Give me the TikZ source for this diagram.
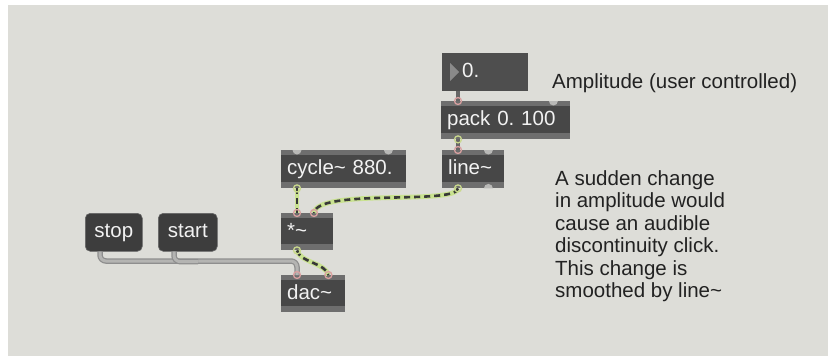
\documentclass[tikz,border=0pt]{standalone}
\usepackage{fontspec}
\setmainfont{Liberation Sans}
\usetikzlibrary{calc}
\frenchspacing
\definecolor{bg}{HTML}{DDDDD8}
\definecolor{boxbody}{HTML}{474747}
\definecolor{strip}{HTML}{6E6E6E}
\definecolor{numbg}{HTML}{4E4E4E}
\definecolor{tri}{HTML}{8A8A8A}
\definecolor{bump}{HTML}{B9B9B7}
\definecolor{pinkring}{HTML}{D9A0A0}
\definecolor{yelring}{HTML}{C9D98C}
\definecolor{sigyel}{HTML}{C9E290}
\definecolor{sigdark}{HTML}{383838}
\definecolor{ctl}{HTML}{666666}
\definecolor{msgout}{HTML}{8E8E8E}
\definecolor{msgin}{HTML}{B4B4B2}
\definecolor{msgbg}{HTML}{3D3D3D}
\definecolor{txt}{HTML}{222222}
\newcommand\boxfont{\fontsize{20.5pt}{22.5pt}\selectfont}
\newcommand\maxstrips[1]{%
  \fill[strip] (#1.north west) rectangle ($(#1.north east)+(0,5)$);
  \fill[strip] ($(#1.south west)+(0,-6)$) rectangle (#1.south east);}
\tikzset{
  maxbox/.style={fill=boxbody, anchor=north west, inner ysep=0pt, inner xsep=6pt,
    minimum height=38pt, text height=15pt, text depth=4pt, text=white!95!black,
    font=\boxfont, align=left, text width=#1},
  msgbox/.style={fill=msgbg, draw=black!60, line width=0.6pt, rounded corners=5pt,
    anchor=north west, inner sep=0pt, minimum height=38pt, minimum width=#1,
    text height=15pt, text depth=4pt, text=white!95!black, font=\boxfont},
  lbl/.style={text=txt, font=\boxfont, inner sep=0pt},
  sigcord/.style={draw=sigdark, line width=2.6pt, dash pattern=on 6pt off 4pt,
    preaction={draw=sigyel, line width=4.8pt, solid}},
  ctlcord/.style={draw=ctl, line width=4.5pt},
  msgcord/.style={draw=msgin, line width=3pt, rounded corners=6pt,
    preaction={draw=msgout, line width=5.5pt}},
  pring/.style={draw=pinkring, line width=1.3pt},
  yring/.style={draw=yelring, line width=1.3pt},
}
\begin{document}
\begin{tikzpicture}[x=1pt,y=-1pt]
\useasboundingbox (0,0) rectangle (828,356);
\fill[white] (0,0) rectangle (828,356);
\fill[bg] (8,5) rectangle (828,356);

% boxes
\node[maxbox=74pt, fill=numbg] (num) at (442,53) {\hspace*{14pt}0.};
\node[maxbox=117pt] (pack) at (441,101) {pack 0. 100};
\node[maxbox=50pt] (line) at (442,150) {line\textasciitilde};
\node[maxbox=113pt] (cycle) at (281,150) {cycle\textasciitilde\ 880.};
\node[maxbox=40pt, minimum height=37pt] (mul) at (281,213) {*\textasciitilde};
\node[maxbox=52pt, minimum height=37pt] (dac) at (281,275) {dac\textasciitilde};
\node[msgbox=57pt] (stop) at (85,213) {stop};
\node[msgbox=59pt] (start) at (158,213) {start};

\maxstrips{pack}
\maxstrips{line}
\maxstrips{cycle}
\maxstrips{mul}
\maxstrips{dac}
\fill[tri] ($(num.north west)+(8,10)$) -- ++(0,18) -- ++(9,-9) -- cycle;

% inlet / outlet points
\coordinate (numOut) at ($(num.south west)+(16,0)$);
\coordinate (packIn) at ($(pack.north west)+(17,0)$);
\coordinate (packIn2) at ($(pack.north east)+(-17,0)$);
\coordinate (packOut) at ($(pack.south west)+(17,0)$);
\coordinate (lineIn) at ($(line.north west)+(16,0)$);
\coordinate (lineIn2) at ($(line.north east)+(-16,0)$);
\coordinate (lineOut) at ($(line.south west)+(16,0)$);
\coordinate (lineOut2) at ($(line.south east)+(-16,0)$);
\coordinate (cycIn) at ($(cycle.north west)+(16,0)$);
\coordinate (cycIn2) at ($(cycle.north east)+(-18,0)$);
\coordinate (cycOut) at ($(cycle.south west)+(16,0)$);
\coordinate (mulIn) at ($(mul.north west)+(16,0)$);
\coordinate (mulIn2) at ($(mul.north west)+(33,0)$);
\coordinate (mulOut) at ($(mul.south west)+(16,0)$);
\coordinate (dacIn) at ($(dac.north west)+(16,0)$);
\coordinate (dacIn2) at ($(dac.north east)+(-17,0)$);
\coordinate (stopOut) at ($(stop.south west)+(15,0)$);
\coordinate (startOut) at ($(start.south west)+(16,0)$);

% unconnected inlet/outlet bumps
\foreach \p in {packIn2,lineIn2,cycIn,cycIn2}{
  \fill[bump] ($(\p)+(-4.5,0)$) arc (180:0:4.5) -- cycle;}
\foreach \p in {lineOut2}{
  \fill[bump] ($(\p)+(-4.5,0)$) arc (180:360:4.5) -- cycle;}

% cords
\draw[ctlcord] (numOut) -- (packIn);
\draw[ctlcord] (packOut) -- (lineIn);
\draw[msgcord] (stopOut) |- ($(dacIn)+(0,-14)$) -- (dacIn);
\draw[msgcord] (startOut) |- ($(startOut)+(24,10)$);
\draw[sigcord] (cycOut) -- (mulIn);
\draw[sigcord] (lineOut) .. controls ($(lineOut)+(-2,17)$) and ($(mulIn2)+(3,-25)$) .. (mulIn2);
\draw[sigcord] (mulOut) .. controls ($(mulOut)+(3,12)$) and ($(dacIn2)+(-3,-12)$) .. (dacIn2);

% rings
\foreach \p in {packIn,lineIn,mulIn,mulIn2,dacIn,dacIn2}{
  \draw[pring] (\p) circle (3.5);}
\foreach \p in {packOut,lineOut,cycOut,mulOut}{
  \draw[yring] (\p) circle (3.5);}

% comments
\node[lbl, anchor=base west] (amp) at (552,88) {Amplitude (user controlled)};
\node[lbl, anchor=north west, align=left] (note) at (555,170)
  {A sudden change\\in amplitude would\\cause an audible\\discontinuity click.\\This change is\\smoothed by line\textasciitilde};
\end{tikzpicture}
\end{document}
